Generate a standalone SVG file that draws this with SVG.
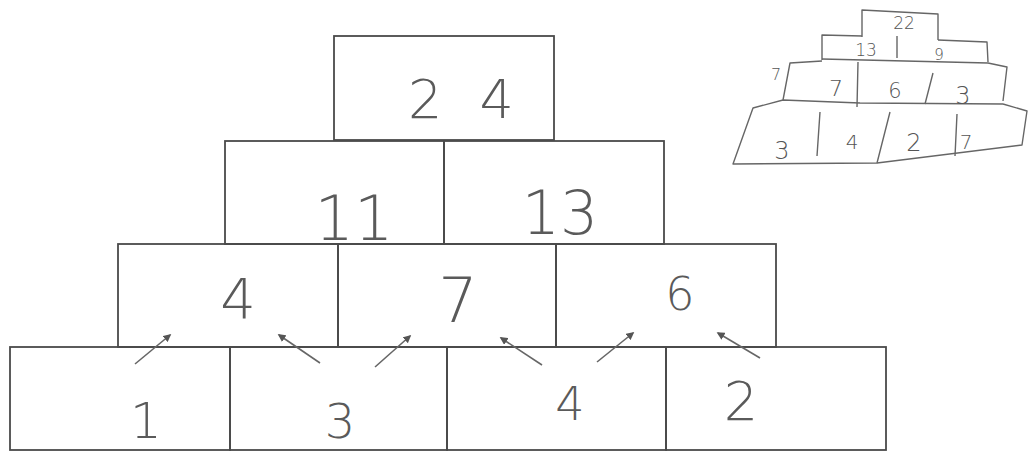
<svg xmlns="http://www.w3.org/2000/svg" width="1029" height="453" viewBox="0 0 1029 453">
<defs>
<style>
.box{fill:none;stroke:#4a4a4a;stroke-width:1.8}
.num{font-family:"DejaVu Sans","Liberation Sans",sans-serif;font-weight:200;fill:#5a5a5a;text-anchor:middle}
.sm{fill:none;stroke:#666;stroke-width:1.4;stroke-linejoin:round}
.snum{font-family:"DejaVu Sans","Liberation Sans",sans-serif;font-weight:200;fill:#555;text-anchor:middle}
.arr{stroke:#666;stroke-width:1.6;fill:none}
</style>
<marker id="ah" viewBox="0 0 10 10" refX="8" refY="5" markerWidth="5" markerHeight="5" orient="auto">
<path d="M0,0 L10,5 L0,10 z" fill="#555"/>
</marker>
</defs>
<rect width="1029" height="453" fill="#fff"/>
<g id="top"><rect class="box" x="334" y="36" width="220" height="104"/><text class="num" x="466" y="118" font-size="54" letter-spacing="10">2 4</text></g>
<g id="r2a"><rect class="box" x="225" y="141" width="219" height="103"/><text class="num" x="354" y="240" font-size="62">11</text></g>
<g id="r2b"><rect class="box" x="444" y="141" width="220" height="103"/><text class="num" x="560" y="234" font-size="60">13</text></g>
<g id="r3a"><rect class="box" x="118" y="244" width="220" height="103"/><text class="num" x="238" y="318" font-size="56">4</text></g>
<g id="r3b"><rect class="box" x="338" y="244" width="218" height="103"/><text class="num" x="458" y="322" font-size="62">7</text></g>
<g id="r3c"><rect class="box" x="556" y="244" width="220" height="103"/><text class="num" x="680" y="310" font-size="46">6</text></g>
<g id="r4a"><rect class="box" x="10" y="347" width="220" height="103"/><text class="num" x="146" y="438" font-size="50">1</text></g>
<g id="r4b"><rect class="box" x="230" y="347" width="217" height="103"/><text class="num" x="340" y="438" font-size="48">3</text></g>
<g id="r4c"><rect class="box" x="447" y="347" width="219" height="103"/><text class="num" x="570" y="420" font-size="46">4</text></g>
<g id="r4d"><rect class="box" x="666" y="347" width="220" height="103"/><text class="num" x="741" y="420" font-size="54">2</text></g>
<g id="connectors">
<line class="arr" x1="135" y1="364" x2="170" y2="335" marker-end="url(#ah)"/>
<line class="arr" x1="320" y1="363" x2="279" y2="335" marker-end="url(#ah)"/>
<line class="arr" x1="375" y1="367" x2="410" y2="336" marker-end="url(#ah)"/>
<line class="arr" x1="542" y1="365" x2="501" y2="338" marker-end="url(#ah)"/>
<line class="arr" x1="597" y1="362" x2="633" y2="333" marker-end="url(#ah)"/>
<line class="arr" x1="760" y1="358" x2="718" y2="333" marker-end="url(#ah)"/>
</g>
<g id="mini">
<path class="sm" d="M862,37 L862,10 L938,14 L938,40"/>
<path class="sm" d="M822,60 L822,35 L862,36 M938,40 L987,42 L988,62"/>
<path class="sm" d="M783,100 L790,63 L822,61 M822,59 L988,63 L1007,67 L1003,101"/>
<path class="sm" d="M783,100 L860,103 L1003,104 M783,100 L753,108 L733,164 L877,163 L1022,145 L1027,111 L1003,104"/>
<path class="sm" d="M897,36 L897,58 M858,62 L857,107 M933,73 L925,104 M820,112 L817,156 M890,112 L877,163 M957,114 L955,156"/>
<text class="snum" x="904" y="29" font-size="17">22</text>
<text class="snum" x="866" y="56" font-size="17">13</text>
<text class="snum" x="939" y="60" font-size="15">9</text>
<text class="snum" x="776" y="80" font-size="16" fill="#999">7</text>
<text class="snum" x="836" y="96" font-size="22">7</text>
<text class="snum" x="895" y="98" font-size="21">6</text>
<text class="snum" x="963" y="104" font-size="24">3</text>
<text class="snum" x="782" y="159" font-size="24">3</text>
<text class="snum" x="852" y="149" font-size="20">4</text>
<text class="snum" x="914" y="151" font-size="24">2</text>
<text class="snum" x="966" y="149" font-size="20">7</text>
</g>
</svg>
